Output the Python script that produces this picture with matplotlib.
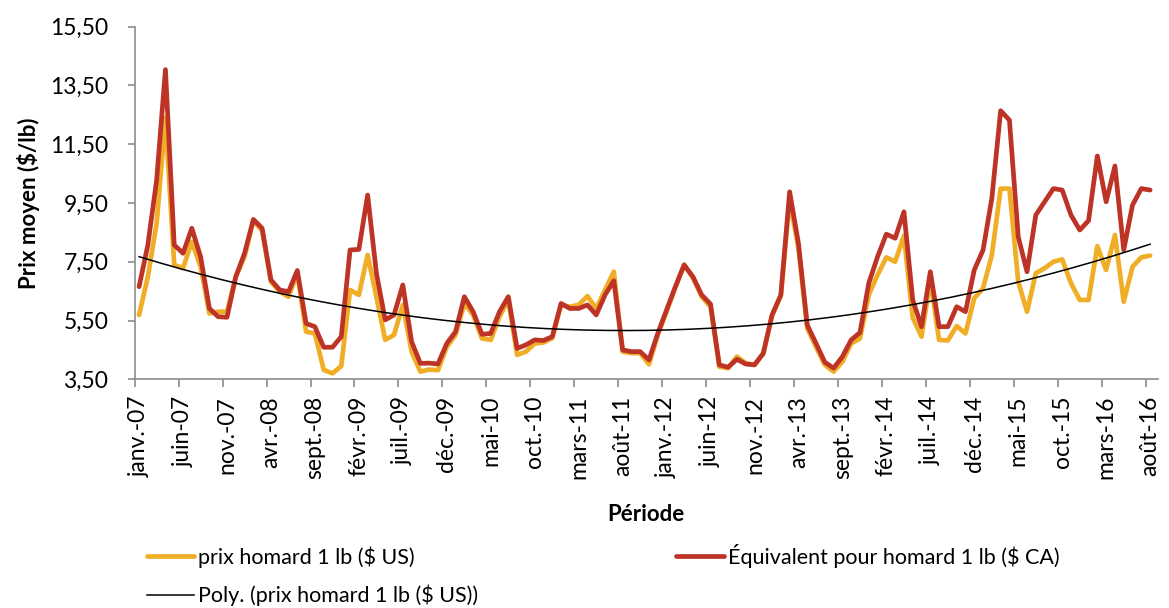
import numpy as np
import matplotlib
matplotlib.use("Agg")
import matplotlib.pyplot as plt
from matplotlib.ticker import FixedLocator, FuncFormatter

plt.rcParams['font.family'] = ['Lato', 'DejaVu Sans']

# monthly average prices, janv. 2007 -> août 2016
prix_us = [
    5.69, 6.99, 8.81, 12.40, 7.39, 7.28, 8.18, 7.33, 5.74, 5.80,
    5.80, 6.99, 7.67, 8.90, 8.55, 6.82, 6.48, 6.31, 7.10, 5.12,
    5.06, 3.82, 3.70, 3.95, 6.54, 6.37, 7.73, 6.30, 4.84, 5.01,
    6.03, 4.44, 3.76, 3.83, 3.81, 4.60, 5.01, 6.08, 5.69, 4.89,
    4.84, 5.63, 6.20, 4.33, 4.44, 4.72, 4.75, 4.90, 6.03, 5.97,
    6.03, 6.33, 5.91, 6.54, 7.16, 4.44, 4.39, 4.39, 4.01, 5.01,
    5.80, 6.62, 7.40, 6.95, 6.31, 5.97, 3.93, 3.88, 4.27, 4.05,
    3.99, 4.38, 5.66, 6.35, 9.60, 7.96, 5.24, 4.60, 3.99, 3.76,
    4.10, 4.72, 4.89, 6.37, 7.05, 7.65, 7.50, 8.38, 5.60, 4.95,
    6.90, 4.84, 4.82, 5.31, 5.06, 6.26, 6.60, 7.73, 9.99, 9.99,
    6.82, 5.80, 7.11, 7.28, 7.50, 7.58, 6.77, 6.20, 6.20, 8.03,
    7.22, 8.41, 6.14, 7.33, 7.65, 7.71,
]
prix_ca = [
    6.65, 8.07, 10.28, 14.04, 8.07, 7.79, 8.64, 7.67, 5.91, 5.63,
    5.61, 6.99, 7.79, 8.94, 8.64, 6.88, 6.54, 6.48, 7.20, 5.40,
    5.29, 4.59, 4.59, 4.95, 7.90, 7.92, 9.77, 7.10, 5.52, 5.69,
    6.71, 4.78, 4.04, 4.05, 4.02, 4.72, 5.12, 6.31, 5.80, 5.03,
    5.06, 5.80, 6.31, 4.55, 4.67, 4.84, 4.82, 4.95, 6.08, 5.91,
    5.91, 6.03, 5.69, 6.37, 6.85, 4.50, 4.44, 4.44, 4.16, 5.06,
    5.86, 6.65, 7.39, 6.99, 6.37, 6.06, 3.99, 3.91, 4.18, 4.02,
    3.99, 4.38, 5.69, 6.37, 9.88, 8.13, 5.35, 4.72, 4.08, 3.88,
    4.27, 4.84, 5.09, 6.77, 7.67, 8.44, 8.30, 9.20, 6.20, 5.29,
    7.16, 5.29, 5.29, 5.97, 5.80, 7.22, 7.90, 9.66, 12.64, 12.32,
    8.35, 7.16, 9.09, 9.54, 9.99, 9.94, 9.09, 8.58, 8.90, 11.10,
    9.54, 10.76, 7.90, 9.43, 9.99, 9.94,
]
mois = ['janv.', 'févr.', 'mars', 'avr.', 'mai', 'juin',
        'juil.', 'août', 'sept.', 'oct.', 'nov.', 'déc.']
periodes = [f"{mois[k % 12]}-{7 + k // 12:02d}" for k in range(len(prix_us))]

JAUNE = '#F0AE27'
ROUGE = '#BD3427'
GRIS = '#8C8C8C'

x = np.arange(len(prix_us))

fig = plt.figure(figsize=(11.69, 6.08), dpi=100)
ax = fig.add_axes([0.1152, 0.3762, 0.8754, 0.5799])

ax.plot(x, prix_us, color=JAUNE, lw=3.4, solid_joinstyle='round',
        solid_capstyle='round', label='prix homard 1 lb ($ US)')
ax.plot(x, prix_ca, color=ROUGE, lw=3.4, solid_joinstyle='round',
        solid_capstyle='round', label='Équivalent pour homard 1 lb ($ CA)')

# polynomial trend (order 2) on the US series, like Excel does
xt = x + 1
coef = np.polyfit(xt, prix_us, 2)
xs = np.linspace(xt[0], xt[-1], 300)
ax.plot(xs - 1, np.polyval(coef, xs), color='black', lw=1.1,
        label='Poly. (prix homard 1 lb ($ US))')

ax.set_xlim(-0.5, len(x) - 0.5 + 0.4)
ax.set_ylim(3.5, 15.5)

ax.set_yticks(np.arange(3.5, 15.6, 2.0))
ax.yaxis.set_major_formatter(FuncFormatter(lambda v, p: f"{v:.2f}".replace('.', ',')))

lab_pos = x[::5]
ax.set_xticks(lab_pos)
ax.set_xticklabels([periodes[i] for i in lab_pos], rotation=90)
ax.xaxis.set_minor_locator(FixedLocator(lab_pos - 0.5))
ax.tick_params(axis='x', which='major', length=0, pad=12, labelsize=16.5)
ax.tick_params(axis='x', which='minor', length=6, width=1.2, color=GRIS)
ax.tick_params(axis='y', length=5, width=1.2, color=GRIS, labelsize=16.5, pad=14)

for s in ['top', 'right']:
    ax.spines[s].set_visible(False)
for s in ['left', 'bottom']:
    ax.spines[s].set_color(GRIS)
    ax.spines[s].set_linewidth(1.2)

ax.set_xlabel('Période', fontsize=16, fontweight='bold', labelpad=18)
ax.set_ylabel('Prix moyen ($/lb)', fontsize=16, fontweight='bold', labelpad=7)

h, l = ax.get_legend_handles_labels()
order = [0, 2, 1]
fig.legend([h[i] for i in order], [l[i] for i in order], ncol=2,
           loc='upper left', bbox_to_anchor=(0.118, 0.12),
           bbox_transform=fig.transFigure, frameon=False, fontsize=15.5,
           handlelength=2.2, handletextpad=0.2, columnspacing=9.2,
           labelspacing=0.8, borderaxespad=0)

fig.savefig('out.png', dpi=100)
